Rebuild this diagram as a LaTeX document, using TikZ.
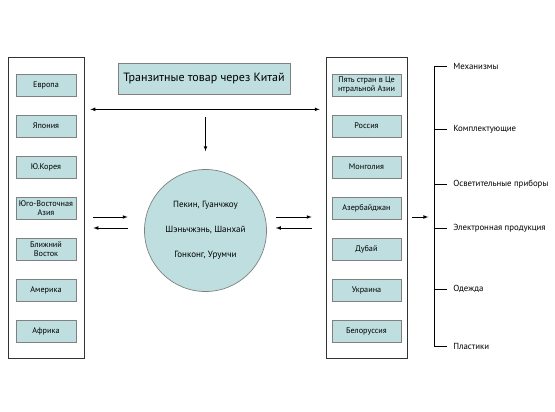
\documentclass[tikz,border=0pt]{standalone}
\usepackage{fontspec}
\setmainfont{PT Sans}
\usetikzlibrary{arrows,calc}
\definecolor{boxfill}{RGB}{190,222,224}
\tikzset{
  country/.style={draw=gray, fill=boxfill, minimum width=60pt, minimum height=22pt, inner sep=1pt, align=center, font=\fontsize{8.2}{9}\selectfont},
  frame/.style={draw=black!80, minimum width=76pt, minimum height=301pt},
  goods/.style={anchor=west, inner sep=0pt, font=\fontsize{8.8}{10}\selectfont},
}

\begin{document}
\begin{tikzpicture}[x=1pt,y=-1pt,>=latex,line width=0.7pt]
            \useasboundingbox (0,0) rectangle (555,412);
            \node[frame] (LeftBox) at (46,207.5) {};
            \node[frame, minimum width=81pt] (RightBox) at (366.5,207.5) {};
            \node[country] (Src0) at (46,85) {Европа};
            \node[country] (Src1) at (46,126) {Япония};
            \node[country] (Src2) at (46,167) {Ю.Корея};
            \node[country] (Src3) at (46,208) {Юго-Восточная\\Азия};
            \node[country] (Src4) at (46,249) {Ближний\\Восток};
            \node[country] (Src5) at (46,290) {Америка};
            \node[country] (Src6) at (46,331) {Африка};
            \node[country, minimum width=69pt] (Dst0) at (366.5,85) {Пять стран в Це\\нтральной Азии};
            \node[country, minimum width=69pt] (Dst1) at (366.5,126) {Россия};
            \node[country, minimum width=69pt] (Dst2) at (366.5,167) {Монголия};
            \node[country, minimum width=69pt] (Dst3) at (366.5,208) {Азербайджан};
            \node[country, minimum width=69pt] (Dst4) at (366.5,249) {Дубай};
            \node[country, minimum width=69pt] (Dst5) at (366.5,290) {Украина};
            \node[country, minimum width=69pt] (Dst6) at (366.5,331) {Белоруссия};
            \node[draw=gray, fill=boxfill, minimum width=172pt, minimum height=31pt, font=\fontsize{12}{14}\selectfont] (Title) at (204,78.5) {Транзитные товар через Китай};
            \node[circle, draw=gray, fill=boxfill, minimum size=122pt, align=center, font=\fontsize{9}{11}\selectfont] (Hub) at (205.5,230.5) {Пекин, Гуанчжоу\\[14pt]Шэньчжэнь, Шанхай\\[14pt]Гонконг, Урумчи};
            \draw[<->] ($(LeftBox.east |- Title.south)+(6,15)$) -- ($(RightBox.west |- Title.south)+(-6,15)$);
            \draw[->] ($(Hub.north)+(0,-52)$) -- ($(Hub.north)+(0,-18)$);
            \draw[->] ($(LeftBox.east |- Hub.west)+(9,-13.5)$) -- ($(Hub.west)+(-16.5,-13.5)$);
            \draw[<-] ($(LeftBox.east |- Hub.west)+(9,-2.5)$) -- ($(Hub.west)+(-16.5,-2.5)$);
            \draw[->] ($(Hub.east)+(9,-13.5)$) -- ($(RightBox.west |- Hub.east)+(-14,-13.5)$);
            \draw[<-] ($(Hub.east)+(9,-2.5)$) -- ($(RightBox.west |- Hub.east)+(-14,-2.5)$);
            \draw[->] ($(RightBox.east |- Hub.east)+(5,-13.5)$) -- ++(16,0);
            \foreach \name/\y [count=\i from 0] in {Механизмы/66, Комплектующие/129, Осветительные приборы/184.5, Электронная продукция/228, Одежда/289, Пластики/346}
                \node[goods] (Prod\i) at (453,\y) {\name};
            \foreach \i in {0,...,5}
                \draw ([xshift=-6pt]Prod\i.west) -- ++(-13,0);
            \draw ([xshift=-19pt]Prod0.west) -- ([xshift=-19pt]Prod5.west);
        \end{tikzpicture}
\end{document}
